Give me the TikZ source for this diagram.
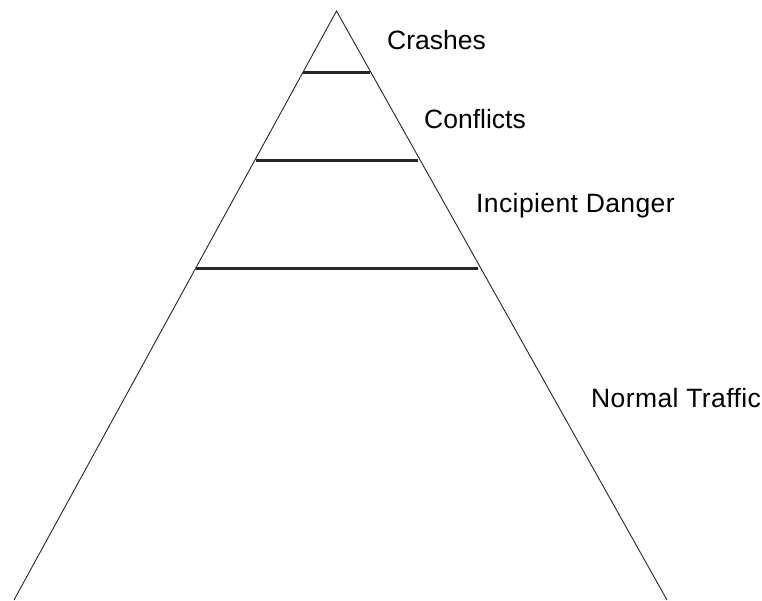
\documentclass[tikz,border=0pt]{standalone}
\usepackage{fontspec}
\setmainfont{Liberation Sans}
\newfontfamily\spacedfont[LetterSpace=1.5]{Liberation Sans}
\begin{document}
\begin{tikzpicture}[x=1pt,y=-1pt,
  side/.style={draw=black!85, line width=0.9pt},
  level/.style={draw=black!85, line width=3.2pt},
  lbl/.style={anchor=base west, inner sep=0pt, font=\fontsize{26.5}{30}\selectfont},
  wlbl/.style={lbl, font=\spacedfont\fontsize{26.5}{30}\selectfont}]
\useasboundingbox (0,0) rectangle (762,600);
\coordinate (apex) at (336.5,11);
\coordinate (bl) at (14,600);
\coordinate (br) at (667,600);
\draw[side] (bl) -- (apex) -- (br);
\coordinate (c1l) at (303,72.5);
\coordinate (c1r) at (369.5,72.5);
\coordinate (c2l) at (255.5,160.5);
\coordinate (c2r) at (418,160.5);
\coordinate (c3l) at (196,268.5);
\coordinate (c3r) at (478,268.5);
\draw[level] (c1l) -- (c1r);
\draw[level] (c2l) -- (c2r);
\draw[level] (c3l) -- (c3r);
\node[lbl] (crashes) at (387,49) {Crashes};
\node[lbl] (conflicts) at (424,128) {Conflicts};
\node[wlbl] (incipient) at (476,212) {Incipient Danger};
\node[wlbl] (normal) at (591,407) {Normal Traffic};
\end{tikzpicture}
\end{document}
